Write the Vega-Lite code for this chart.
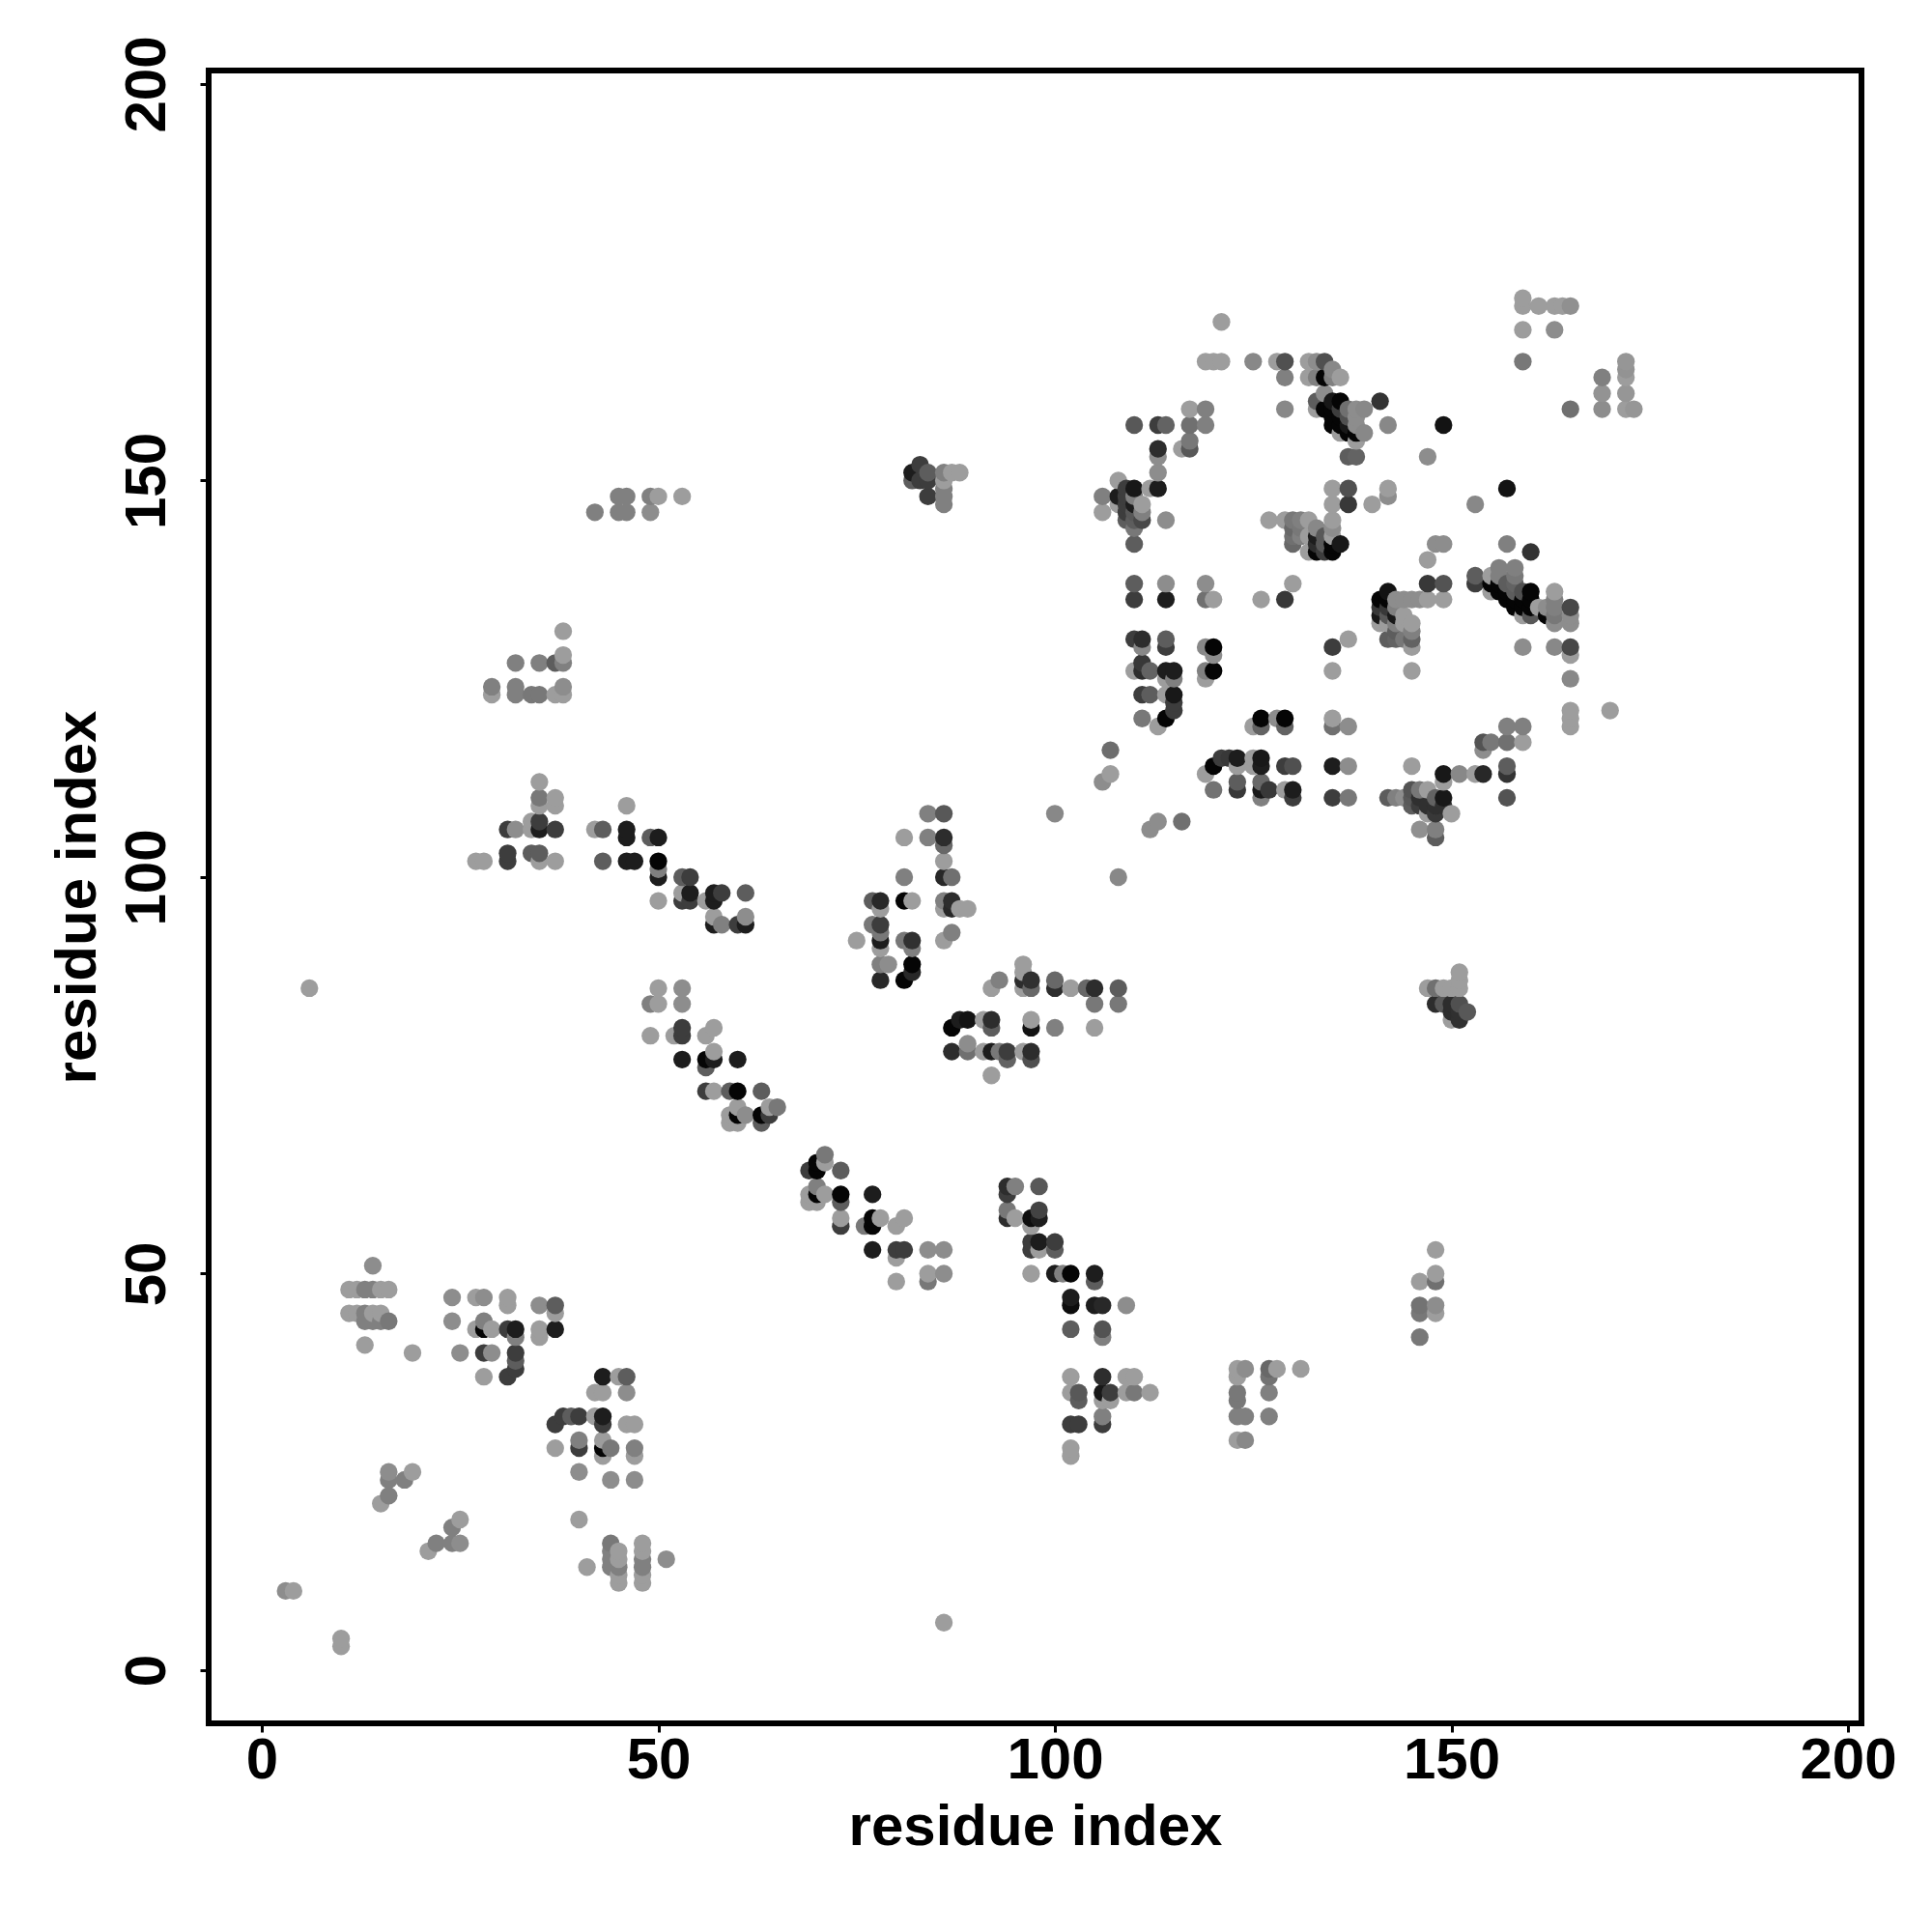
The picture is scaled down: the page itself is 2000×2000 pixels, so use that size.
{"$schema":"https://vega.github.io/schema/vega-lite/v6.json","autosize":{"type":"none"},"padding":{"left":216,"top":73,"right":73,"bottom":216},"width":1711,"height":1711,"background":"white","view":{"stroke":"black","strokeWidth":6,"fill":"white"},
"data":{"values":[
{"x":3,"y":10,"v":0.12},{"x":4,"y":10,"v":0.02},{"x":6,"y":86,"v":0.02},{"x":10,"y":3,"v":0.02},{"x":10,"y":4,"v":0.02},
{"x":11,"y":45,"v":0.02},{"x":11,"y":48,"v":0.02},{"x":12,"y":45,"v":0.02},{"x":12,"y":48,"v":0.02},
{"x":13,"y":41,"v":0.02},{"x":13,"y":44,"v":0.2},{"x":13,"y":45,"v":0.2},{"x":13,"y":48,"v":0.2},
{"x":14,"y":44,"v":0.2},{"x":14,"y":45,"v":0.02},{"x":14,"y":48,"v":0.2},{"x":14,"y":51,"v":0.12},
{"x":15,"y":21,"v":0.02},{"x":15,"y":44,"v":0.2},{"x":15,"y":45,"v":0.02},{"x":15,"y":48,"v":0.02},
{"x":16,"y":22,"v":0.2},{"x":16,"y":24,"v":0.2},{"x":16,"y":25,"v":0.12},{"x":16,"y":44,"v":0.25},{"x":16,"y":48,"v":0.02},
{"x":18,"y":24,"v":0.2},{"x":19,"y":25,"v":0.02},{"x":19,"y":40,"v":0.02},{"x":21,"y":15,"v":0.02},{"x":22,"y":16,"v":0.2},
{"x":24,"y":16,"v":0.2},{"x":24,"y":18,"v":0.2},{"x":24,"y":44,"v":0.12},{"x":24,"y":47,"v":0.12},
{"x":25,"y":16,"v":0.12},{"x":25,"y":19,"v":0.02},{"x":25,"y":40,"v":0.12},
{"x":27,"y":43,"v":0.02},{"x":27,"y":47,"v":0.02},{"x":27,"y":102,"v":0.02},
{"x":28,"y":37,"v":0.02},{"x":28,"y":40,"v":0.62},{"x":28,"y":43,"v":0.97},{"x":28,"y":44,"v":0.2},{"x":28,"y":47,"v":0.12},{"x":28,"y":102,"v":0.02},
{"x":29,"y":40,"v":0.12},{"x":29,"y":43,"v":0.02},{"x":29,"y":123,"v":0.02},{"x":29,"y":124,"v":0.2},
{"x":31,"y":37,"v":0.62},{"x":31,"y":43,"v":0.62},{"x":31,"y":46,"v":0.02},{"x":31,"y":47,"v":0.02},{"x":31,"y":102,"v":0.62},{"x":31,"y":103,"v":0.62},{"x":31,"y":106,"v":0.62},
{"x":32,"y":38,"v":0.62},{"x":32,"y":39,"v":0.42},{"x":32,"y":40,"v":0.62},{"x":32,"y":42,"v":0.2},{"x":32,"y":43,"v":0.82},{"x":32,"y":106,"v":0.12},{"x":32,"y":123,"v":0.2},{"x":32,"y":124,"v":0.2},{"x":32,"y":127,"v":0.2},
{"x":34,"y":103,"v":0.42},{"x":34,"y":106,"v":0.02},{"x":34,"y":107,"v":0.02},{"x":34,"y":123,"v":0.25},
{"x":35,"y":42,"v":0.02},{"x":35,"y":43,"v":0.02},{"x":35,"y":46,"v":0.12},{"x":35,"y":102,"v":0.02},{"x":35,"y":103,"v":0.42},{"x":35,"y":106,"v":0.82},{"x":35,"y":107,"v":0.62},{"x":35,"y":109,"v":0.02},{"x":35,"y":110,"v":0.25},{"x":35,"y":112,"v":0.02},{"x":35,"y":123,"v":0.25},{"x":35,"y":127,"v":0.2},
{"x":37,"y":28,"v":0.02},{"x":37,"y":31,"v":0.62},{"x":37,"y":43,"v":0.82},{"x":37,"y":45,"v":0.02},{"x":37,"y":46,"v":0.42},{"x":37,"y":102,"v":0.02},{"x":37,"y":106,"v":0.62},{"x":37,"y":109,"v":0.02},{"x":37,"y":110,"v":0.02},{"x":37,"y":123,"v":0.02},{"x":37,"y":127,"v":0.42},
{"x":38,"y":32,"v":0.62},{"x":38,"y":123,"v":0.02},{"x":38,"y":124,"v":0.12},{"x":38,"y":127,"v":0.2},{"x":38,"y":128,"v":0.02},{"x":38,"y":131,"v":0.02},
{"x":39,"y":32,"v":0.42},
{"x":40,"y":19,"v":0.02},{"x":40,"y":25,"v":0.12},{"x":40,"y":28,"v":0.62},{"x":40,"y":29,"v":0.2},{"x":40,"y":32,"v":0.62},
{"x":41,"y":13,"v":0.02},
{"x":42,"y":32,"v":0.02},{"x":42,"y":35,"v":0.02},{"x":42,"y":106,"v":0.02},{"x":42,"y":146,"v":0.2},
{"x":43,"y":27,"v":0.02},{"x":43,"y":28,"v":0.97},{"x":43,"y":29,"v":0.02},{"x":43,"y":31,"v":0.62},{"x":43,"y":32,"v":0.82},{"x":43,"y":35,"v":0.02},{"x":43,"y":37,"v":0.82},{"x":43,"y":102,"v":0.42},{"x":43,"y":106,"v":0.42},
{"x":44,"y":13,"v":0.2},{"x":44,"y":14,"v":0.2},{"x":44,"y":15,"v":0.2},{"x":44,"y":16,"v":0.25},{"x":44,"y":24,"v":0.12},{"x":44,"y":28,"v":0.25},
{"x":45,"y":11,"v":0.02},{"x":45,"y":12,"v":0.02},{"x":45,"y":13,"v":0.2},{"x":45,"y":14,"v":0.02},{"x":45,"y":15,"v":0.02},{"x":45,"y":37,"v":0.02},{"x":45,"y":146,"v":0.2},{"x":45,"y":148,"v":0.2},
{"x":46,"y":31,"v":0.02},{"x":46,"y":35,"v":0.12},{"x":46,"y":37,"v":0.42},{"x":46,"y":102,"v":0.82},{"x":46,"y":105,"v":0.82},{"x":46,"y":106,"v":0.82},{"x":46,"y":109,"v":0.02},{"x":46,"y":146,"v":0.2},{"x":46,"y":148,"v":0.2},
{"x":47,"y":24,"v":0.12},{"x":47,"y":27,"v":0.02},{"x":47,"y":28,"v":0.2},{"x":47,"y":31,"v":0.02},{"x":47,"y":102,"v":0.82},
{"x":48,"y":11,"v":0.02},{"x":48,"y":12,"v":0.02},{"x":48,"y":13,"v":0.2},{"x":48,"y":14,"v":0.2},{"x":48,"y":15,"v":0.02},{"x":48,"y":16,"v":0.02},
{"x":49,"y":80,"v":0.02},{"x":49,"y":84,"v":0.2},{"x":49,"y":105,"v":0.42},{"x":49,"y":146,"v":0.12},{"x":49,"y":148,"v":0.2},
{"x":50,"y":84,"v":0.02},{"x":50,"y":86,"v":0.02},{"x":50,"y":97,"v":0.02},{"x":50,"y":100,"v":0.82},{"x":50,"y":101,"v":0.2},{"x":50,"y":102,"v":0.97},{"x":50,"y":105,"v":0.82},{"x":50,"y":148,"v":0.02},
{"x":51,"y":14,"v":0.12},{"x":52,"y":80,"v":0.02},
{"x":53,"y":77,"v":0.82},{"x":53,"y":80,"v":0.62},{"x":53,"y":81,"v":0.62},{"x":53,"y":84,"v":0.12},{"x":53,"y":86,"v":0.12},{"x":53,"y":97,"v":0.62},{"x":53,"y":98,"v":0.02},{"x":53,"y":100,"v":0.42},{"x":53,"y":148,"v":0.02},
{"x":54,"y":97,"v":0.62},{"x":54,"y":98,"v":0.82},{"x":54,"y":100,"v":0.62},
{"x":56,"y":73,"v":0.62},{"x":56,"y":76,"v":0.42},{"x":56,"y":77,"v":0.97},{"x":56,"y":80,"v":0.02},{"x":56,"y":97,"v":0.02},
{"x":57,"y":73,"v":0.02},{"x":57,"y":77,"v":0.82},{"x":57,"y":78,"v":0.02},{"x":57,"y":81,"v":0.02},{"x":57,"y":94,"v":0.82},{"x":57,"y":95,"v":0.02},{"x":57,"y":97,"v":0.82},{"x":57,"y":98,"v":0.82},
{"x":58,"y":94,"v":0.2},{"x":58,"y":98,"v":0.62},
{"x":59,"y":69,"v":0.02},{"x":59,"y":70,"v":0.02},{"x":59,"y":73,"v":0.42},
{"x":60,"y":69,"v":0.02},{"x":60,"y":70,"v":0.97},{"x":60,"y":71,"v":0.02},{"x":60,"y":73,"v":0.97},{"x":60,"y":77,"v":0.82},{"x":60,"y":94,"v":0.62},
{"x":61,"y":70,"v":0.12},{"x":61,"y":94,"v":0.82},{"x":61,"y":95,"v":0.12},{"x":61,"y":98,"v":0.42},
{"x":63,"y":69,"v":0.42},{"x":63,"y":70,"v":0.97},{"x":63,"y":73,"v":0.42},
{"x":64,"y":70,"v":0.62},{"x":64,"y":71,"v":0.02},{"x":65,"y":71,"v":0.25},
{"x":69,"y":59,"v":0.02},{"x":69,"y":60,"v":0.02},{"x":69,"y":63,"v":0.62},
{"x":70,"y":59,"v":0.02},{"x":70,"y":60,"v":0.97},{"x":70,"y":61,"v":0.2},{"x":70,"y":63,"v":0.97},{"x":70,"y":64,"v":0.97},
{"x":71,"y":60,"v":0.02},{"x":71,"y":64,"v":0.02},{"x":71,"y":65,"v":0.25},
{"x":73,"y":56,"v":0.62},{"x":73,"y":57,"v":0.02},{"x":73,"y":59,"v":0.42},{"x":73,"y":60,"v":0.97},{"x":73,"y":63,"v":0.42},
{"x":75,"y":92,"v":0.02},{"x":76,"y":56,"v":0.25},
{"x":77,"y":53,"v":0.82},{"x":77,"y":56,"v":0.97},{"x":77,"y":57,"v":0.97},{"x":77,"y":60,"v":0.82},{"x":77,"y":94,"v":0.25},{"x":77,"y":97,"v":0.42},
{"x":78,"y":57,"v":0.02},{"x":78,"y":87,"v":0.75},{"x":78,"y":89,"v":0.2},{"x":78,"y":91,"v":0.02},{"x":78,"y":92,"v":0.82},{"x":78,"y":93,"v":0.25},{"x":78,"y":94,"v":0.62},{"x":78,"y":96,"v":0.02},{"x":78,"y":97,"v":0.75},
{"x":79,"y":89,"v":0.12},
{"x":80,"y":49,"v":0.02},{"x":80,"y":52,"v":0.02},{"x":80,"y":53,"v":0.62},{"x":80,"y":56,"v":0.02},
{"x":81,"y":53,"v":0.62},{"x":81,"y":57,"v":0.02},{"x":81,"y":87,"v":0.97},{"x":81,"y":92,"v":0.25},{"x":81,"y":97,"v":0.97},{"x":81,"y":100,"v":0.2},{"x":81,"y":105,"v":0.02},
{"x":82,"y":88,"v":0.75},{"x":82,"y":89,"v":0.97},{"x":82,"y":91,"v":0.2},{"x":82,"y":92,"v":0.7},{"x":82,"y":97,"v":0.02},{"x":82,"y":150,"v":0.42},{"x":82,"y":151,"v":0.82},
{"x":83,"y":150,"v":0.62},{"x":83,"y":152,"v":0.62},
{"x":84,"y":49,"v":0.25},{"x":84,"y":50,"v":0.02},{"x":84,"y":53,"v":0.12},{"x":84,"y":105,"v":0.2},{"x":84,"y":108,"v":0.2},{"x":84,"y":148,"v":0.62},{"x":84,"y":150,"v":0.62},{"x":84,"y":151,"v":0.42},
{"x":86,"y":6,"v":0.02},{"x":86,"y":50,"v":0.12},{"x":86,"y":53,"v":0.12},{"x":86,"y":92,"v":0.02},{"x":86,"y":96,"v":0.02},{"x":86,"y":97,"v":0.2},{"x":86,"y":100,"v":0.75},{"x":86,"y":102,"v":0.02},{"x":86,"y":104,"v":0.35},{"x":86,"y":105,"v":0.72},{"x":86,"y":108,"v":0.45},{"x":86,"y":147,"v":0.2},{"x":86,"y":148,"v":0.2},{"x":86,"y":149,"v":0.2},{"x":86,"y":150,"v":0.02},{"x":86,"y":151,"v":0.2},
{"x":87,"y":78,"v":0.72},{"x":87,"y":81,"v":0.97},{"x":87,"y":93,"v":0.2},{"x":87,"y":96,"v":0.75},{"x":87,"y":97,"v":0.72},{"x":87,"y":100,"v":0.3},{"x":87,"y":151,"v":0.02},
{"x":88,"y":82,"v":0.82},{"x":88,"y":96,"v":0.02},{"x":88,"y":151,"v":0.02},
{"x":89,"y":78,"v":0.3},{"x":89,"y":79,"v":0.12},{"x":89,"y":82,"v":0.88},{"x":89,"y":96,"v":0.02},
{"x":91,"y":78,"v":0.02},{"x":91,"y":82,"v":0.02},
{"x":92,"y":75,"v":0.02},{"x":92,"y":78,"v":0.82},{"x":92,"y":81,"v":0.42},{"x":92,"y":82,"v":0.72},{"x":92,"y":86,"v":0.02},
{"x":93,"y":78,"v":0.25},{"x":93,"y":87,"v":0.2},
{"x":94,"y":57,"v":0.72},{"x":94,"y":58,"v":0.25},{"x":94,"y":60,"v":0.62},{"x":94,"y":61,"v":0.72},{"x":94,"y":77,"v":0.38},{"x":94,"y":78,"v":0.62},
{"x":95,"y":57,"v":0.02},{"x":95,"y":61,"v":0.2},
{"x":96,"y":78,"v":0.02},{"x":96,"y":86,"v":0.02},{"x":96,"y":87,"v":0.72},{"x":96,"y":88,"v":0.02},{"x":96,"y":89,"v":0.02},
{"x":97,"y":50,"v":0.02},{"x":97,"y":53,"v":0.62},{"x":97,"y":54,"v":0.62},{"x":97,"y":56,"v":0.02},{"x":97,"y":57,"v":0.92},{"x":97,"y":77,"v":0.5},{"x":97,"y":78,"v":0.72},{"x":97,"y":81,"v":0.88},{"x":97,"y":82,"v":0.02},{"x":97,"y":86,"v":0.35},{"x":97,"y":87,"v":0.7},
{"x":98,"y":53,"v":0.02},{"x":98,"y":54,"v":0.82},{"x":98,"y":57,"v":0.82},{"x":98,"y":58,"v":0.58},{"x":98,"y":61,"v":0.45},
{"x":100,"y":50,"v":0.82},{"x":100,"y":53,"v":0.42},{"x":100,"y":54,"v":0.62},{"x":100,"y":81,"v":0.2},{"x":100,"y":86,"v":0.72},{"x":100,"y":87,"v":0.35},{"x":100,"y":108,"v":0.15},
{"x":101,"y":50,"v":0.2},
{"x":102,"y":27,"v":0.02},{"x":102,"y":28,"v":0.02},{"x":102,"y":31,"v":0.62},{"x":102,"y":35,"v":0.02},{"x":102,"y":37,"v":0.02},{"x":102,"y":43,"v":0.42},{"x":102,"y":46,"v":0.92},{"x":102,"y":47,"v":0.82},{"x":102,"y":50,"v":0.97},{"x":102,"y":86,"v":0.02},
{"x":103,"y":31,"v":0.62},{"x":103,"y":34,"v":0.42},{"x":103,"y":35,"v":0.45},{"x":104,"y":86,"v":0.35},
{"x":105,"y":46,"v":0.82},{"x":105,"y":49,"v":0.42},{"x":105,"y":50,"v":0.82},{"x":105,"y":81,"v":0.02},{"x":105,"y":84,"v":0.25},{"x":105,"y":86,"v":0.72},
{"x":106,"y":31,"v":0.62},{"x":106,"y":32,"v":0.2},{"x":106,"y":34,"v":0.02},{"x":106,"y":35,"v":0.85},{"x":106,"y":37,"v":0.72},{"x":106,"y":42,"v":0.2},{"x":106,"y":43,"v":0.48},{"x":106,"y":46,"v":0.75},{"x":106,"y":112,"v":0.12},{"x":106,"y":146,"v":0.02},{"x":106,"y":148,"v":0.2},
{"x":107,"y":34,"v":0.02},{"x":107,"y":35,"v":0.62},{"x":107,"y":113,"v":0.02},{"x":107,"y":116,"v":0.32},
{"x":108,"y":84,"v":0.25},{"x":108,"y":86,"v":0.42},{"x":108,"y":100,"v":0.15},{"x":108,"y":147,"v":0.02},{"x":108,"y":148,"v":0.82},{"x":108,"y":150,"v":0.02},
{"x":109,"y":35,"v":0.02},{"x":109,"y":37,"v":0.02},{"x":109,"y":46,"v":0.12},{"x":109,"y":145,"v":0.42},{"x":109,"y":146,"v":0.62},{"x":109,"y":147,"v":0.62},{"x":109,"y":148,"v":0.62},{"x":109,"y":149,"v":0.62},
{"x":110,"y":35,"v":0.25},{"x":110,"y":37,"v":0.02},{"x":110,"y":126,"v":0.02},{"x":110,"y":130,"v":0.62},{"x":110,"y":135,"v":0.62},{"x":110,"y":137,"v":0.42},{"x":110,"y":142,"v":0.42},{"x":110,"y":144,"v":0.25},{"x":110,"y":145,"v":0.42},{"x":110,"y":146,"v":0.45},{"x":110,"y":147,"v":0.82},{"x":110,"y":148,"v":0.2},{"x":110,"y":149,"v":0.85},{"x":110,"y":157,"v":0.45},
{"x":111,"y":120,"v":0.25},{"x":111,"y":123,"v":0.62},{"x":111,"y":126,"v":0.72},{"x":111,"y":127,"v":0.65},{"x":111,"y":129,"v":0.15},{"x":111,"y":130,"v":0.72},{"x":111,"y":145,"v":0.55},{"x":111,"y":146,"v":0.2},{"x":111,"y":147,"v":0.02},
{"x":112,"y":35,"v":0.02},{"x":112,"y":106,"v":0.12},{"x":112,"y":123,"v":0.42},{"x":112,"y":126,"v":0.38},{"x":112,"y":149,"v":0.02},
{"x":113,"y":107,"v":0.12},{"x":113,"y":119,"v":0.02},{"x":113,"y":149,"v":0.82},{"x":113,"y":151,"v":0.12},{"x":113,"y":153,"v":0.12},{"x":113,"y":154,"v":0.72},{"x":113,"y":157,"v":0.62},
{"x":114,"y":120,"v":0.97},{"x":114,"y":123,"v":0.02},{"x":114,"y":125,"v":0.02},{"x":114,"y":126,"v":0.82},{"x":114,"y":129,"v":0.62},{"x":114,"y":130,"v":0.42},{"x":114,"y":135,"v":0.82},{"x":114,"y":137,"v":0.12},{"x":114,"y":145,"v":0.12},{"x":114,"y":157,"v":0.38},
{"x":115,"y":121,"v":0.62},{"x":115,"y":122,"v":0.62},{"x":115,"y":123,"v":0.85},{"x":115,"y":125,"v":0.2},{"x":115,"y":126,"v":0.82},
{"x":116,"y":107,"v":0.3},{"x":116,"y":154,"v":0.02},
{"x":117,"y":154,"v":0.45},{"x":117,"y":155,"v":0.25},{"x":117,"y":157,"v":0.3},{"x":117,"y":159,"v":0.02},
{"x":119,"y":113,"v":0.02},{"x":119,"y":125,"v":0.02},{"x":119,"y":126,"v":0.2},{"x":119,"y":129,"v":0.15},{"x":119,"y":135,"v":0.3},{"x":119,"y":137,"v":0.12},{"x":119,"y":157,"v":0.2},{"x":119,"y":159,"v":0.2},{"x":119,"y":165,"v":0.02},
{"x":120,"y":111,"v":0.28},{"x":120,"y":114,"v":0.97},{"x":120,"y":126,"v":0.97},{"x":120,"y":128,"v":0.12},{"x":120,"y":129,"v":0.97},{"x":120,"y":135,"v":0.02},{"x":120,"y":165,"v":0.02},
{"x":121,"y":115,"v":0.62},{"x":121,"y":165,"v":0.02},{"x":121,"y":170,"v":0.02},{"x":122,"y":115,"v":0.65},
{"x":123,"y":29,"v":0.02},{"x":123,"y":32,"v":0.2},{"x":123,"y":34,"v":0.25},{"x":123,"y":35,"v":0.25},{"x":123,"y":37,"v":0.02},{"x":123,"y":38,"v":0.02},{"x":123,"y":111,"v":0.65},{"x":123,"y":112,"v":0.42},{"x":123,"y":114,"v":0.02},{"x":123,"y":115,"v":0.82},
{"x":124,"y":29,"v":0.15},{"x":124,"y":32,"v":0.2},{"x":124,"y":38,"v":0.12},
{"x":125,"y":114,"v":0.02},{"x":125,"y":115,"v":0.02},{"x":125,"y":119,"v":0.02},{"x":125,"y":165,"v":0.15},
{"x":126,"y":110,"v":0.2},{"x":126,"y":111,"v":0.85},{"x":126,"y":112,"v":0.35},{"x":126,"y":114,"v":0.82},{"x":126,"y":115,"v":0.85},{"x":126,"y":119,"v":0.38},{"x":126,"y":120,"v":0.97},{"x":126,"y":135,"v":0.02},
{"x":127,"y":32,"v":0.2},{"x":127,"y":35,"v":0.2},{"x":127,"y":37,"v":0.28},{"x":127,"y":38,"v":0.35},{"x":127,"y":111,"v":0.65},{"x":127,"y":145,"v":0.02},
{"x":128,"y":38,"v":0.02},{"x":128,"y":120,"v":0.12},{"x":128,"y":165,"v":0.02},
{"x":129,"y":111,"v":0.02},{"x":129,"y":114,"v":0.62},{"x":129,"y":119,"v":0.38},{"x":129,"y":120,"v":0.97},{"x":129,"y":135,"v":0.65},{"x":129,"y":145,"v":0.02},{"x":129,"y":159,"v":0.15},{"x":129,"y":163,"v":0.2},{"x":129,"y":165,"v":0.5},
{"x":130,"y":110,"v":0.62},{"x":130,"y":111,"v":0.82},{"x":130,"y":114,"v":0.5},{"x":130,"y":137,"v":0.02},{"x":130,"y":142,"v":0.35},{"x":130,"y":143,"v":0.3},{"x":130,"y":144,"v":0.35},{"x":130,"y":145,"v":0.25},
{"x":131,"y":38,"v":0.02},{"x":131,"y":143,"v":0.2},{"x":131,"y":144,"v":0.25},{"x":131,"y":145,"v":0.2},
{"x":132,"y":141,"v":0.02},{"x":132,"y":143,"v":0.02},{"x":132,"y":145,"v":0.02},{"x":132,"y":163,"v":0.02},{"x":132,"y":165,"v":0.02},
{"x":133,"y":141,"v":0.97},{"x":133,"y":142,"v":0.72},{"x":133,"y":143,"v":0.82},{"x":133,"y":144,"v":0.15},{"x":133,"y":159,"v":0.02},{"x":133,"y":160,"v":0.42},{"x":133,"y":163,"v":0.2},{"x":133,"y":165,"v":0.12},
{"x":134,"y":141,"v":0.62},{"x":134,"y":142,"v":0.45},{"x":134,"y":143,"v":0.45},{"x":134,"y":159,"v":0.97},{"x":134,"y":161,"v":0.12},{"x":134,"y":163,"v":0.97},{"x":134,"y":165,"v":0.5},
{"x":135,"y":110,"v":0.62},{"x":135,"y":114,"v":0.82},{"x":135,"y":119,"v":0.3},{"x":135,"y":120,"v":0.02},{"x":135,"y":126,"v":0.02},{"x":135,"y":129,"v":0.62},{"x":135,"y":141,"v":0.97},{"x":135,"y":142,"v":0.97},{"x":135,"y":143,"v":0.02},{"x":135,"y":144,"v":0.12},{"x":135,"y":145,"v":0.02},{"x":135,"y":147,"v":0.02},{"x":135,"y":149,"v":0.02},{"x":135,"y":157,"v":0.97},{"x":135,"y":158,"v":0.97},{"x":135,"y":159,"v":0.97},{"x":135,"y":160,"v":0.85},{"x":135,"y":163,"v":0.2},{"x":135,"y":164,"v":0.15},
{"x":136,"y":142,"v":0.85},{"x":136,"y":156,"v":0.02},{"x":136,"y":157,"v":0.97},{"x":136,"y":158,"v":0.97},{"x":136,"y":159,"v":0.62},{"x":136,"y":160,"v":0.97},{"x":136,"y":163,"v":0.02},
{"x":137,"y":110,"v":0.25},{"x":137,"y":114,"v":0.12},{"x":137,"y":119,"v":0.12},{"x":137,"y":130,"v":0.02},{"x":137,"y":147,"v":0.65},{"x":137,"y":149,"v":0.5},{"x":137,"y":153,"v":0.42},{"x":137,"y":156,"v":0.97},{"x":137,"y":157,"v":0.85},{"x":137,"y":158,"v":0.5},{"x":137,"y":159,"v":0.3},
{"x":138,"y":153,"v":0.38},{"x":138,"y":155,"v":0.02},{"x":138,"y":156,"v":0.97},{"x":138,"y":157,"v":0.12},{"x":138,"y":158,"v":0.12},{"x":138,"y":159,"v":0.12},
{"x":139,"y":156,"v":0.15},{"x":139,"y":159,"v":0.15},{"x":140,"y":147,"v":0.02},
{"x":141,"y":132,"v":0.02},{"x":141,"y":133,"v":0.85},{"x":141,"y":134,"v":0.65},{"x":141,"y":135,"v":0.97},{"x":141,"y":160,"v":0.68},
{"x":142,"y":110,"v":0.42},{"x":142,"y":130,"v":0.42},{"x":142,"y":132,"v":0.02},{"x":142,"y":133,"v":0.45},{"x":142,"y":134,"v":0.65},{"x":142,"y":135,"v":0.97},{"x":142,"y":136,"v":0.88},{"x":142,"y":148,"v":0.12},{"x":142,"y":149,"v":0.02},{"x":142,"y":157,"v":0.15},
{"x":143,"y":110,"v":0.2},{"x":143,"y":130,"v":0.38},{"x":143,"y":131,"v":0.42},{"x":143,"y":132,"v":0.2},{"x":143,"y":133,"v":0.85},{"x":143,"y":134,"v":0.2},{"x":143,"y":135,"v":0.12},
{"x":144,"y":110,"v":0.12},{"x":144,"y":130,"v":0.25},{"x":144,"y":132,"v":0.02},{"x":144,"y":133,"v":0.02},{"x":144,"y":135,"v":0.12},
{"x":145,"y":109,"v":0.42},{"x":145,"y":110,"v":0.45},{"x":145,"y":111,"v":0.48},{"x":145,"y":114,"v":0.02},{"x":145,"y":126,"v":0.02},{"x":145,"y":129,"v":0.02},{"x":145,"y":130,"v":0.38},{"x":145,"y":131,"v":0.2},{"x":145,"y":132,"v":0.02},{"x":145,"y":135,"v":0.12},
{"x":146,"y":42,"v":0.25},{"x":146,"y":45,"v":0.25},{"x":146,"y":46,"v":0.28},{"x":146,"y":49,"v":0.02},{"x":146,"y":106,"v":0.1},{"x":146,"y":109,"v":0.62},{"x":146,"y":110,"v":0.7},{"x":146,"y":111,"v":0.25},{"x":146,"y":135,"v":0.12},
{"x":147,"y":86,"v":0.02},{"x":147,"y":108,"v":0.02},{"x":147,"y":109,"v":0.7},{"x":147,"y":111,"v":0.02},{"x":147,"y":135,"v":0.02},{"x":147,"y":137,"v":0.65},{"x":147,"y":140,"v":0.02},{"x":147,"y":153,"v":0.12},
{"x":148,"y":45,"v":0.02},{"x":148,"y":46,"v":0.12},{"x":148,"y":49,"v":0.3},{"x":148,"y":50,"v":0.02},{"x":148,"y":53,"v":0.02},{"x":148,"y":84,"v":0.72},{"x":148,"y":86,"v":0.3},{"x":148,"y":105,"v":0.42},{"x":148,"y":106,"v":0.2},{"x":148,"y":108,"v":0.65},{"x":148,"y":109,"v":0.7},{"x":148,"y":110,"v":0.38},{"x":148,"y":142,"v":0.12},
{"x":149,"y":84,"v":0.45},{"x":149,"y":86,"v":0.02},{"x":149,"y":109,"v":0.7},{"x":149,"y":110,"v":0.85},{"x":149,"y":112,"v":0.02},{"x":149,"y":113,"v":0.85},{"x":149,"y":135,"v":0.02},{"x":149,"y":137,"v":0.48},{"x":149,"y":142,"v":0.12},{"x":149,"y":157,"v":0.88},
{"x":150,"y":82,"v":0.02},{"x":150,"y":83,"v":0.72},{"x":150,"y":84,"v":0.72},{"x":150,"y":86,"v":0.02},{"x":150,"y":108,"v":0.02},
{"x":151,"y":82,"v":0.7},{"x":151,"y":83,"v":0.7},{"x":151,"y":84,"v":0.5},{"x":151,"y":86,"v":0.02},{"x":151,"y":87,"v":0.02},{"x":151,"y":88,"v":0.02},{"x":151,"y":113,"v":0.15},
{"x":152,"y":83,"v":0.45},
{"x":153,"y":113,"v":0.02},{"x":153,"y":137,"v":0.62},{"x":153,"y":138,"v":0.42},{"x":153,"y":147,"v":0.15},
{"x":154,"y":113,"v":0.75},{"x":154,"y":116,"v":0.12},{"x":154,"y":117,"v":0.48},
{"x":155,"y":117,"v":0.25},{"x":155,"y":136,"v":0.02},{"x":155,"y":137,"v":0.97},{"x":155,"y":138,"v":0.02},
{"x":156,"y":136,"v":0.97},{"x":156,"y":137,"v":0.97},{"x":156,"y":138,"v":0.2},{"x":156,"y":139,"v":0.2},
{"x":157,"y":110,"v":0.48},{"x":157,"y":113,"v":0.68},{"x":157,"y":114,"v":0.42},{"x":157,"y":117,"v":0.3},{"x":157,"y":119,"v":0.2},{"x":157,"y":135,"v":0.97},{"x":157,"y":136,"v":0.97},{"x":157,"y":137,"v":0.42},{"x":157,"y":142,"v":0.2},{"x":157,"y":149,"v":0.88},
{"x":158,"y":134,"v":0.97},{"x":158,"y":135,"v":0.97},{"x":158,"y":136,"v":0.42},{"x":158,"y":137,"v":0.38},{"x":158,"y":138,"v":0.25},{"x":158,"y":139,"v":0.2},
{"x":159,"y":117,"v":0.02},{"x":159,"y":119,"v":0.2},{"x":159,"y":129,"v":0.12},{"x":159,"y":133,"v":0.02},{"x":159,"y":134,"v":0.97},{"x":159,"y":135,"v":0.97},{"x":159,"y":136,"v":0.5},{"x":159,"y":165,"v":0.25},{"x":159,"y":169,"v":0.02},{"x":159,"y":172,"v":0.02},{"x":159,"y":173,"v":0.02},
{"x":160,"y":133,"v":0.45},{"x":160,"y":134,"v":0.97},{"x":160,"y":135,"v":0.97},{"x":160,"y":136,"v":0.97},{"x":160,"y":141,"v":0.68},
{"x":161,"y":134,"v":0.02},{"x":161,"y":172,"v":0.02},
{"x":162,"y":133,"v":0.97},{"x":162,"y":134,"v":0.12},
{"x":163,"y":129,"v":0.15},{"x":163,"y":132,"v":0.12},{"x":163,"y":133,"v":0.25},{"x":163,"y":134,"v":0.2},{"x":163,"y":135,"v":0.2},{"x":163,"y":136,"v":0.02},{"x":163,"y":169,"v":0.12},{"x":163,"y":172,"v":0.02},
{"x":164,"y":172,"v":0.02},
{"x":165,"y":119,"v":0.02},{"x":165,"y":120,"v":0.02},{"x":165,"y":121,"v":0.02},{"x":165,"y":125,"v":0.15},{"x":165,"y":128,"v":0.02},{"x":165,"y":129,"v":0.55},{"x":165,"y":132,"v":0.12},{"x":165,"y":133,"v":0.12},{"x":165,"y":134,"v":0.55},{"x":165,"y":159,"v":0.3},{"x":165,"y":172,"v":0.1},
{"x":169,"y":159,"v":0.12},{"x":169,"y":161,"v":0.08},{"x":169,"y":163,"v":0.2},
{"x":170,"y":121,"v":0.02},
{"x":172,"y":159,"v":0.02},{"x":172,"y":161,"v":0.06},{"x":172,"y":163,"v":0.02},{"x":172,"y":164,"v":0.08},{"x":172,"y":165,"v":0.06},
{"x":173,"y":159,"v":0.06}
]},
"mark":{"type":"point","filled":true,"opacity":1,"size":335,"clip":false},
"encoding":{
"x":{"field":"x","type":"quantitative","scale":{"domain":[-6.7,201.7],"nice":false,"zero":false},"axis":{"title":"residue index","values":[0,50,100,150,200],"grid":false,"domain":false,"ticks":true,"tickColor":"black","tickWidth":3,"tickSize":9,"labelFont":"Liberation Sans","labelFontWeight":"bold","labelFontSize":60,"labelColor":"black","labelPadding":47,"labelBaseline":"alphabetic","labelAngle":0,"labelFlush":false,"labelOverlap":false,"titleFont":"Liberation Sans","titleFontWeight":"bold","titleFontSize":60,"titleColor":"black","titleBaseline":"alphabetic","titleY":125,"format":"d"}},
"y":{"field":"y","type":"quantitative","scale":{"domain":[-6.7,201.7],"nice":false,"zero":false},"axis":{"title":"residue index","values":[0,50,100,150,200],"grid":false,"domain":false,"ticks":true,"tickColor":"black","tickWidth":3,"tickSize":9,"labelFont":"Liberation Sans","labelFontWeight":"bold","labelFontSize":60,"labelColor":"black","labelAngle":270,"labelAlign":"center","labelBaseline":"alphabetic","labelPadding":37,"labelFlush":false,"labelOverlap":false,"titleFont":"Liberation Sans","titleFontWeight":"bold","titleFontSize":60,"titleColor":"black","titleAngle":270,"titleBaseline":"alphabetic","titleX":-118,"format":"d"}},
"color":{"field":"v","type":"quantitative","legend":null,"scale":{"domain":[0,1],"range":["#a0a0a0","#000000"],"interpolate":"rgb"}}
}}
